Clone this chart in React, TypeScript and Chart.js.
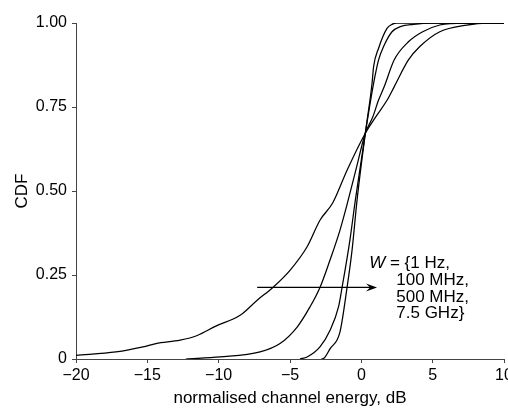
import React, { useEffect, useRef } from "react";
import { Chart, registerables } from "chart.js";

Chart.register(...registerables);

// CDF curves for W = 1 Hz, 100 MHz, 500 MHz, 7.5 GHz
const w1HzX = [-20, -17.2, -15.3, -14.4, -12.7, -11.5, -10.2, -8.5, -7.3, -6.2, -5.0, -3.8, -2.9, -2.0, -1.0, 0.28, 1.0, 1.8, 2.3, 3.3, 4.1, 5.5, 7.4, 8.8, 10];
const w1HzY = [0.011, 0.021, 0.036, 0.046, 0.056, 0.07, 0.098, 0.13, 0.175, 0.213, 0.264, 0.334, 0.413, 0.465, 0.562, 0.672, 0.72, 0.77, 0.81, 0.89, 0.93, 0.974, 0.994, 1.0, 1.0];

const w100MHzX = [-12.3, -9.9, -7.1, -5.7, -4.5, -3.6, -2.9, -2.2, -1.5, -1.0, -0.4, 0.28, 0.8, 1.2, 1.6, 2.3, 3.3, 4.3, 5.5, 7.2, 10];
const w100MHzY = [0, 0.006, 0.021, 0.046, 0.095, 0.155, 0.213, 0.294, 0.383, 0.46, 0.56, 0.672, 0.72, 0.77, 0.81, 0.89, 0.944, 0.974, 0.994, 1.0, 1.0];

const w500MHzX = [-4.3, -3.8, -2.9, -2.2, -1.6, -1.35, -0.8, -0.42, 0.28, 0.86, 1.21, 1.56, 2.15, 2.73, 3.67, 4.84, 10];
const w500MHzY = [0, 0.006, 0.036, 0.085, 0.155, 0.213, 0.354, 0.473, 0.672, 0.82, 0.89, 0.93, 0.974, 0.989, 0.996, 1.0, 1.0];

const w7GHzX = [-2.8, -2.6, -2.2, -1.5, -1.0, -0.65, -0.3, 0.28, 0.75, 0.86, 1.21, 1.8, 2.15, 2.5, 10];
const w7GHzY = [0, 0.003, 0.03, 0.08, 0.213, 0.324, 0.473, 0.672, 0.82, 0.87, 0.925, 0.984, 0.996, 1.0, 1.0];

const xTickValues = [-20, -15, -10, -5, 0, 5, 10];
const yTickValues = [0, 0.25, 0.5, 0.75, 1];
const yTickLabels = ["0", "0.25", "0.50", "0.75", "1.00"];

const xTitle = "normalised channel energy, dB";
const yTitle = "CDF";
const annotFirstItalic = "W";
const annotFirstRest = " = {1 Hz,";
const annotOtherLines = ["100 MHz,", "500 MHz,", "7.5 GHz}"];

const FONT = "'Liberation Sans', Arial, Helvetica, sans-serif";

const toPts = (xs: number[], ys: number[]) => xs.map((x, i) => ({ x, y: ys[i] }));

const annotationPlugin = {
  id: "wAnnotation",
  afterDatasetsDraw(chart: any) {
    const { ctx } = chart;
    const xs = chart.scales.x;
    const ys = chart.scales.y;
    const ay = ys.getPixelForValue(0.213);
    const ax0 = xs.getPixelForValue(-7.3);
    const ax1 = xs.getPixelForValue(1.1);
    ctx.save();
    ctx.strokeStyle = "#000";
    ctx.fillStyle = "#000";
    ctx.lineWidth = 1.3;
    ctx.beginPath();
    ctx.moveTo(ax0, ay);
    ctx.lineTo(ax1 - 6, ay);
    ctx.stroke();
    ctx.beginPath();
    ctx.moveTo(ax1, ay);
    ctx.lineTo(ax1 - 11, ay - 4);
    ctx.lineTo(ax1 - 7, ay);
    ctx.lineTo(ax1 - 11, ay + 4);
    ctx.closePath();
    ctx.fill();

    ctx.textBaseline = "middle";
    ctx.textAlign = "left";
    const tx = xs.getPixelForValue(0.55);
    const tx2 = xs.getPixelForValue(2.45);
    const ly = [0.285, 0.235, 0.185, 0.135].map((v) => ys.getPixelForValue(v));
    ctx.font = `italic 17px ${FONT}`;
    ctx.fillText(annotFirstItalic, tx, ly[0]);
    const ww = ctx.measureText(annotFirstItalic).width;
    ctx.font = `17px ${FONT}`;
    ctx.fillText(annotFirstRest, tx + ww, ly[0]);
    annotOtherLines.forEach((t, i) => ctx.fillText(t, tx2, ly[i + 1]));
    ctx.restore();
  },
};

export default function App() {
  const ref = useRef<HTMLCanvasElement | null>(null);

  useEffect(() => {
    if (!ref.current) return;
    const lineStyle = {
      borderColor: "#000",
      borderWidth: 1.25,
      pointRadius: 0,
      showLine: true,
      fill: false,
      cubicInterpolationMode: "monotone" as const,
    };
    const chart = new Chart(ref.current, {
      type: "scatter",
      data: {
        datasets: [
          { label: "1 Hz", data: toPts(w1HzX, w1HzY), ...lineStyle },
          { label: "100 MHz", data: toPts(w100MHzX, w100MHzY), ...lineStyle },
          { label: "500 MHz", data: toPts(w500MHzX, w500MHzY), ...lineStyle },
          { label: "7.5 GHz", data: toPts(w7GHzX, w7GHzY), ...lineStyle },
        ],
      },
      options: {
        animation: false,
        responsive: false,
        devicePixelRatio: 1,
        layout: { padding: { left: 0, right: 26, top: 23, bottom: 0 } },
        plugins: { legend: { display: false }, tooltip: { enabled: false } },
        scales: {
          x: {
            type: "linear",
            min: -20,
            max: 10,
            afterFit: (s: any) => {
              s.height = 50;
            },
            afterBuildTicks: (s: any) => {
              s.ticks = xTickValues.map((v) => ({ value: v }));
            },
            ticks: {
              padding: 3,
              color: "#000",
              font: { family: FONT, size: 16 },
              maxRotation: 0,
              callback: (v: any) => (v < 0 ? "\u2212" + Math.abs(v) : String(v)),
            },
            grid: { drawOnChartArea: false, drawTicks: true, tickLength: 4, color: "#444" },
            border: { color: "#444", width: 1 },
            title: {
              display: true,
              text: xTitle,
              color: "#000",
              font: { family: FONT, size: 17 },
              padding: { top: 0, bottom: 0 },
            },
          },
          y: {
            type: "linear",
            min: 0,
            max: 1,
            afterFit: (s: any) => {
              s.width = 76;
            },
            afterBuildTicks: (s: any) => {
              s.ticks = yTickValues.map((v) => ({ value: v }));
            },
            ticks: {
              padding: 5,
              color: "#000",
              font: { family: FONT, size: 16 },
              callback: (v: any) => {
                const i = yTickValues.indexOf(v);
                return i >= 0 ? yTickLabels[i] : "";
              },
            },
            grid: { drawOnChartArea: false, drawTicks: true, tickLength: 4, color: "#444" },
            border: { color: "#444", width: 1 },
            title: {
              display: true,
              text: yTitle,
              color: "#000",
              font: { family: FONT, size: 17 },
              padding: { top: 12, bottom: 0 },
            },
          },
        },
      },
      plugins: [annotationPlugin],
    });
    return () => chart.destroy();
  }, []);

  return (
    <div
      style={{
        position: "fixed",
        left: 0,
        top: 0,
        width: 508,
        height: 409,
        overflow: "hidden",
        background: "#fff",
      }}
    >
      <canvas ref={ref} width={530} height={409} style={{ display: "block", width: 530, height: 409 }} />
    </div>
  );
}
